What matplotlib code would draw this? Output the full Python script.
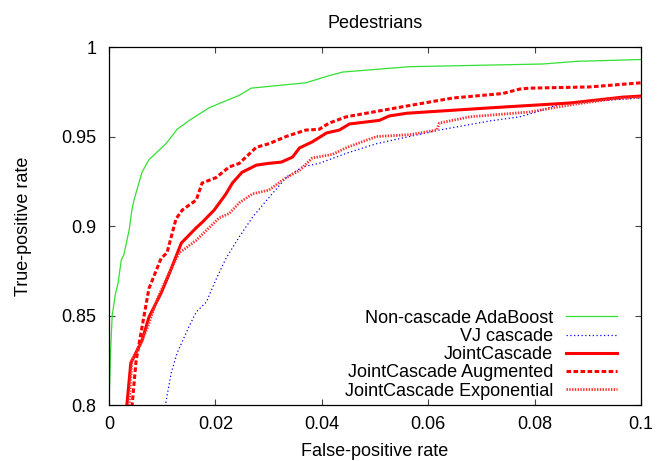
import matplotlib
matplotlib.use("Agg")
import matplotlib.pyplot as plt

plt.rcParams['font.family'] = ['Liberation Sans', 'DejaVu Sans']

# Data
ada_x = [0.0, 0.0003, 0.0006, 0.0012, 0.0017, 0.0023, 0.0028, 0.0038, 0.0043, 0.0047, 0.0062,
         0.0075, 0.0107, 0.0128, 0.0151, 0.0188, 0.022, 0.0245, 0.0267, 0.037, 0.0414,
         0.0439, 0.0565, 0.0815, 0.088, 0.1]
ada_y = [0.8, 0.83, 0.85, 0.862, 0.868, 0.881, 0.884, 0.898, 0.909, 0.9145, 0.93,
         0.937, 0.946, 0.954, 0.959, 0.966, 0.970, 0.973, 0.977, 0.980, 0.984,
         0.986, 0.989, 0.9905, 0.992, 0.993]

vj_x = [0.0104, 0.0107, 0.0117, 0.0128, 0.015, 0.0164, 0.0183, 0.0201, 0.022, 0.0245, 0.027,
        0.0298, 0.0333, 0.0363, 0.0395, 0.0448, 0.0503, 0.0621, 0.0716, 0.0772, 0.0804,
        0.0853, 0.1]
vj_y = [0.795, 0.8017, 0.818, 0.829, 0.8436, 0.852, 0.8575, 0.870, 0.882, 0.894, 0.905,
        0.915, 0.927, 0.933, 0.935, 0.9408, 0.946, 0.9536, 0.9587, 0.961, 0.9637,
        0.9687, 0.9715]

jc_x = [0.0032, 0.0041, 0.0047, 0.0062, 0.0075, 0.0098, 0.011, 0.0122, 0.0136, 0.0164,
        0.0175, 0.0198, 0.022, 0.0232, 0.025, 0.0277, 0.030, 0.0324, 0.0345, 0.0358,
        0.0382, 0.0409, 0.0433, 0.0452, 0.0508, 0.0527, 0.056, 0.0716, 0.0866, 0.0966, 0.1]
jc_y = [0.795, 0.8235, 0.827, 0.836, 0.849, 0.8626, 0.871, 0.880, 0.8905, 0.899,
        0.902, 0.909, 0.918, 0.924, 0.930, 0.934, 0.935, 0.9357, 0.9385, 0.9436,
        0.947, 0.952, 0.9536, 0.957, 0.959, 0.9615, 0.963, 0.966, 0.9687, 0.972, 0.9726]

aug_x = [0.0042, 0.0051, 0.0075, 0.0098, 0.0109, 0.0126, 0.0138, 0.0164, 0.0175, 0.0201,
         0.0226, 0.0245, 0.0277, 0.0301, 0.0333, 0.037, 0.0395, 0.0414, 0.0446, 0.054,
         0.0646, 0.074, 0.0772, 0.079, 0.0904, 0.1]
aug_y = [0.795, 0.825, 0.865, 0.882, 0.885, 0.904, 0.909, 0.9145, 0.924, 0.927,
         0.933, 0.935, 0.944, 0.946, 0.95, 0.9536, 0.954, 0.9575, 0.961, 0.966,
         0.9715, 0.974, 0.9765, 0.977, 0.9777, 0.980]

exp_x = [0.0037, 0.0043, 0.006, 0.0072, 0.009, 0.0107, 0.0132, 0.0164, 0.0188, 0.0207,
         0.0226, 0.0245, 0.027, 0.030, 0.0333, 0.0358, 0.0382, 0.042, 0.0448, 0.0503,
         0.0565, 0.0616, 0.0621, 0.0678, 0.079, 0.0866, 0.0947, 0.1]
exp_y = [0.795, 0.825, 0.8346, 0.843, 0.8587, 0.87, 0.885, 0.892, 0.899, 0.9045,
         0.907, 0.913, 0.918, 0.920, 0.927, 0.931, 0.938, 0.940, 0.944, 0.950,
         0.951, 0.9536, 0.9575, 0.961, 0.9637, 0.9676, 0.971, 0.972]

labels = ["Non-cascade AdaBoost", "VJ cascade", "JointCascade",
          "JointCascade Augmented", "JointCascade Exponential"]
x_ticks = [0, 0.02, 0.04, 0.06, 0.08, 0.1]
x_ticklabels = ["0", "0.02", "0.04", "0.06", "0.08", "0.1"]
y_ticks = [0.8, 0.85, 0.9, 0.95, 1.0]
y_ticklabels = ["0.8", "0.85", "0.9", "0.95", "1"]

fig = plt.figure(figsize=(6.57, 4.61), dpi=100)
ax = fig.add_axes([109/657, 1-405/461, 532/657, 358/461])

ax.plot(ada_x, ada_y, color='#33e033', lw=0.9, label=labels[0])
ax.plot(vj_x, vj_y, color='#0000ff', lw=0.9, linestyle=(0, (1, 2)), label=labels[1])
ax.plot(jc_x, jc_y, color='#ff0000', lw=2.2, label=labels[2])
ax.plot(aug_x, aug_y, color='#ff0000', lw=2.2, linestyle=(0, (1.5, 0.8)), label=labels[3])
ax.plot(exp_x, exp_y, color='#ff3030', lw=2.0, linestyle=(0, (0.5, 0.5)), label=labels[4])

ax.set_xlim(0, 0.1)
ax.set_ylim(0.8, 1.0)
ax.set_xticks(x_ticks)
ax.set_xticklabels(x_ticklabels)
ax.set_yticks(y_ticks)
ax.set_yticklabels(y_ticklabels)
ax.tick_params(direction='in', length=4, width=0.8, color='#444444',
               top=True, right=True, labelsize=13)
ax.tick_params(axis='x', pad=8)
ax.tick_params(axis='y', pad=9)
for s in ax.spines.values():
    s.set_linewidth(0.9)

ax.set_title("Pedestrians", fontsize=13, pad=14)
ax.set_xlabel("False-positive rate", fontsize=13, labelpad=7)
ax.set_ylabel("True-positive rate", fontsize=13, labelpad=21)

leg = ax.legend(loc='lower right', bbox_to_anchor=(0.954, 0.015), frameon=False,
                markerfirst=False, fontsize=13, handlelength=2.8, handletextpad=0.7,
                labelspacing=0.07, borderpad=0, borderaxespad=0)

fig.savefig("out.png", dpi=100)
